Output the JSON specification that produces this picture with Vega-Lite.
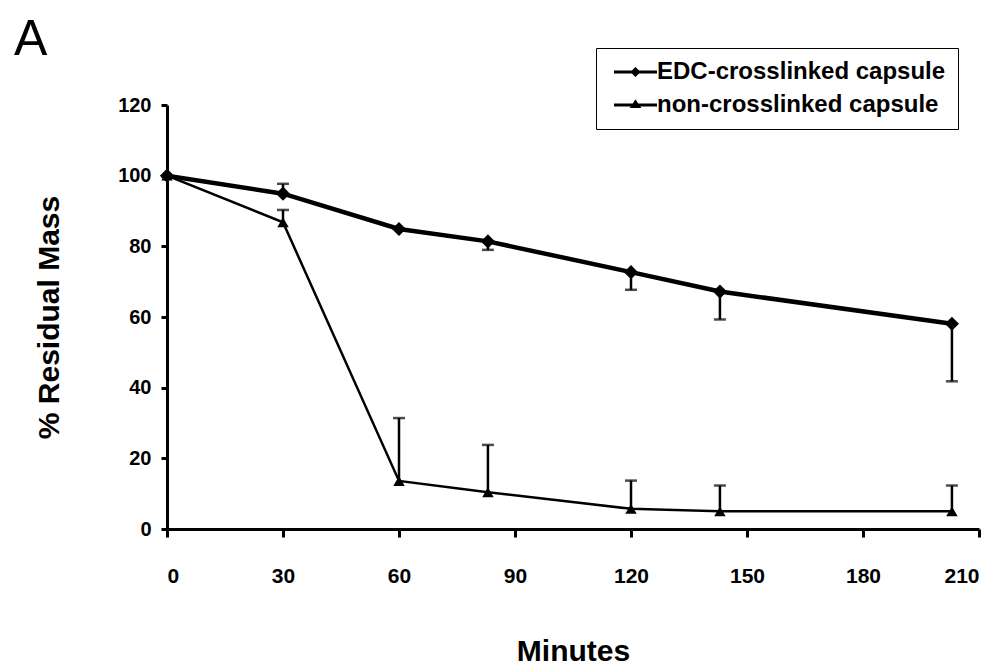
{
  "$schema": "https://vega.github.io/schema/vega-lite/v6.json",
  "width": 812,
  "height": 424,
  "autosize": "none",
  "padding": {"left": 167, "top": 105, "right": 26, "bottom": 139},
  "background": "white",
  "config": {
    "view": {"stroke": null},
    "font": "Liberation Sans",
    "axis": {
      "grid": false,
      "domainColor": "black",
      "domainWidth": 3,
      "tickColor": "black",
      "tickWidth": 3,
      "labelColor": "black",
      "labelFont": "Liberation Sans",
      "labelFontWeight": "bold",
      "labelFontSize": 20,
      "titleColor": "black",
      "titleFont": "Liberation Sans",
      "titleFontWeight": "bold",
      "titleFontSize": 30
    }
  },
  "title": {
    "text": "A",
    "anchor": "start",
    "frame": "group",
    "dx": -153,
    "offset": 0,
    "dy": 57,
    "baseline": "alphabetic",
    "fontSize": 50,
    "fontWeight": "normal",
    "font": "Liberation Sans",
    "color": "black"
  },
  "data": {
    "values": [
      {"series": "EDC-crosslinked capsule", "minutes": 0, "mass": 100, "err": null},
      {"series": "EDC-crosslinked capsule", "minutes": 30, "mass": 94.9, "err": 97.7},
      {"series": "EDC-crosslinked capsule", "minutes": 60, "mass": 84.9, "err": null},
      {"series": "EDC-crosslinked capsule", "minutes": 83, "mass": 81.4, "err": 79.0},
      {"series": "EDC-crosslinked capsule", "minutes": 120, "mass": 72.7, "err": 67.7},
      {"series": "EDC-crosslinked capsule", "minutes": 143, "mass": 67.2, "err": 59.3},
      {"series": "EDC-crosslinked capsule", "minutes": 203, "mass": 58.1, "err": 41.8},
      {"series": "non-crosslinked capsule", "minutes": 0, "mass": 100, "err": null},
      {"series": "non-crosslinked capsule", "minutes": 30, "mass": 86.8, "err": 90.3},
      {"series": "non-crosslinked capsule", "minutes": 60, "mass": 13.6, "err": 31.4},
      {"series": "non-crosslinked capsule", "minutes": 83, "mass": 10.4, "err": 23.8},
      {"series": "non-crosslinked capsule", "minutes": 120, "mass": 5.7, "err": 13.7},
      {"series": "non-crosslinked capsule", "minutes": 143, "mass": 5.0, "err": 12.3},
      {"series": "non-crosslinked capsule", "minutes": 203, "mass": 5.0, "err": 12.3}
    ]
  },
  "encoding": {
    "x": {
      "field": "minutes",
      "type": "quantitative",
      "scale": {"domain": [0, 210], "nice": false, "zero": false},
      "axis": {
        "values": [0, 30, 60, 90, 120, 150, 180, 210],
        "tickSize": 8,
        "labelPadding": 28,
        "labelFontSize": 21,
        "title": "Minutes",
        "titlePadding": 50
      }
    },
    "y": {
      "field": "mass",
      "type": "quantitative",
      "scale": {"domain": [0, 120], "nice": false},
      "axis": {
        "values": [0, 20, 40, 60, 80, 100, 120],
        "tickSize": 6,
        "labelPadding": 10,
        "title": "% Residual Mass",
        "titlePadding": 53
      }
    }
  },
  "layer": [
    {
      "transform": [{"filter": "datum.err != null"}],
      "mark": {"type": "rule", "color": "black", "strokeWidth": 2.5},
      "encoding": {"y2": {"field": "err"}}
    },
    {
      "transform": [{"filter": "datum.err != null"}],
      "mark": {"type": "tick", "orient": "horizontal", "color": "black", "thickness": 2.5, "size": 12},
      "encoding": {"y": {"field": "err", "type": "quantitative"}}
    },
    {
      "mark": {"type": "line", "color": "black"},
      "encoding": {
        "detail": {"field": "series"},
        "strokeWidth": {
          "field": "series",
          "type": "nominal",
          "scale": {"domain": ["EDC-crosslinked capsule", "non-crosslinked capsule"], "range": [4.5, 2.5]},
          "legend": null
        }
      }
    },
    {
      "mark": {"type": "point", "filled": true, "color": "black", "opacity": 1},
      "encoding": {
        "shape": {
          "field": "series",
          "type": "nominal",
          "scale": {"domain": ["EDC-crosslinked capsule", "non-crosslinked capsule"], "range": ["diamond", "triangle-up"]},
          "legend": null
        },
        "size": {
          "field": "series",
          "type": "nominal",
          "scale": {"domain": ["EDC-crosslinked capsule", "non-crosslinked capsule"], "range": [200, 130]},
          "legend": null
        }
      }
    },
    {
      "transform": [{"filter": "false"}],
      "mark": {"type": "point", "filled": false, "color": "black", "strokeWidth": 3, "opacity": 1, "size": 400},
      "encoding": {
        "shape": {
          "field": "series",
          "type": "nominal",
          "scale": {
            "domain": ["EDC-crosslinked capsule", "non-crosslinked capsule"],
            "range": [
              "M-0.6,0L3.7,0M1.55,-0.3L1.85,0L1.55,0.3L1.25,0Z",
              "M-0.6,0L3.7,0M1.55,-0.3L1.85,0.15L1.25,0.15Z"
            ]
          },
          "legend": {
            "orient": "none",
            "legendX": 429,
            "legendY": -57,
            "title": null,
            "strokeColor": "black",
            "padding": 12,
            "fillColor": "white",
            "symbolSize": 400,
            "symbolStrokeWidth": 3,
            "symbolStrokeColor": "black",
            "symbolFillColor": "black",
            "labelFont": "Liberation Sans",
            "labelFontWeight": "bold",
            "labelFontSize": 24,
            "labelColor": "black",
            "labelOffset": 25,
            "rowPadding": 9,
            "labelLimit": 400,
            "encode": {
              "symbols": {
                "update": {
                  "stroke": {"value": "black"},
                  "strokeWidth": {"value": 3},
                  "fill": {"value": "black"},
                  "opacity": {"value": 1}
                }
              }
            }
          }
        }
      }
    }
  ],
  "resolve": {
    "scale": {"shape": "independent", "size": "independent", "strokeWidth": "independent"},
    "legend": {"shape": "independent"}
  }
}
